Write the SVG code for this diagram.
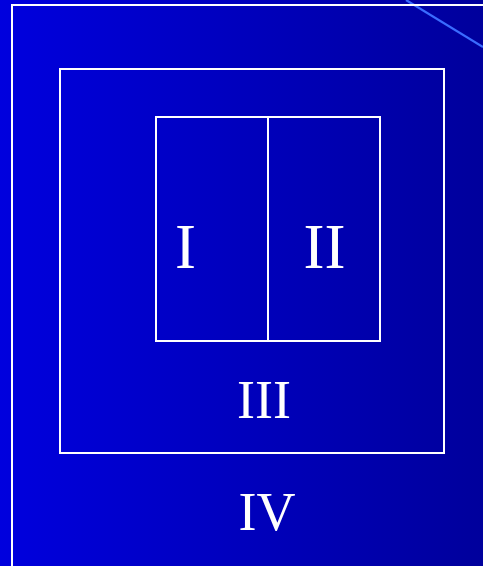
<svg xmlns="http://www.w3.org/2000/svg" width="483" height="566" viewBox="0 0 483 566">
<defs>
<linearGradient id="bg" x1="0" y1="0" x2="1" y2="0">
<stop offset="0" stop-color="#0000de"/>
<stop offset="1" stop-color="#00009c"/>
</linearGradient>
<style>
.box{fill:none;stroke:#ffffff;stroke-width:2}
.lbl{fill:#ffffff;font-family:"Liberation Serif","Times New Roman",serif;text-anchor:middle}
</style>
</defs>
<rect x="0" y="0" width="483" height="566" fill="url(#bg)"/>
<line x1="406" y1="0" x2="483" y2="47" stroke="#3a6cff" stroke-width="2.2"/>
<g id="region-IV">
<rect class="box" x="12" y="5" width="500" height="600"/>
<text class="lbl" x="267" y="530" font-size="54">IV</text>
</g>
<g id="region-III">
<rect class="box" x="60" y="69" width="384" height="384"/>
<text class="lbl" x="264" y="418" font-size="54">III</text>
</g>
<g id="region-I">
<rect class="box" x="156" y="117" width="112" height="224"/>
<text class="lbl" x="185.5" y="268" font-size="63">I</text>
</g>
<g id="region-II">
<rect class="box" x="268" y="117" width="112" height="224"/>
<text class="lbl" x="324.5" y="268" font-size="63">II</text>
</g>
</svg>
